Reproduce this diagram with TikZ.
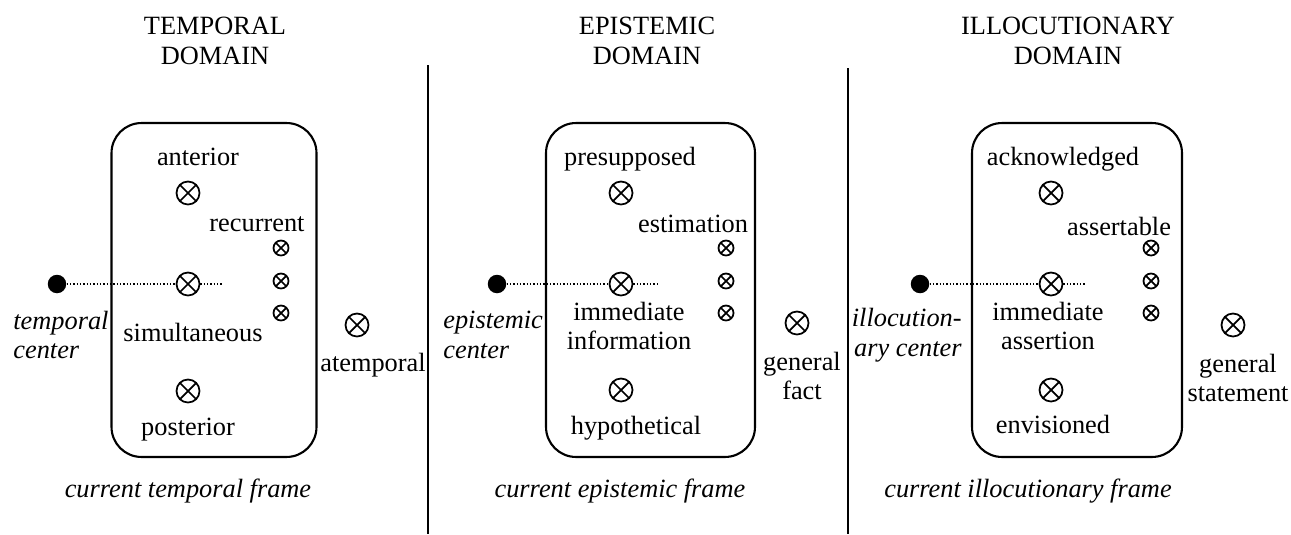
\documentclass[tikz,border=0pt]{standalone}
\usepackage{fontspec}
\setmainfont{Liberation Serif}
\usepackage{tikz}

\tikzset{
  txt/.style={inner sep=0pt, font=\fontsize{15pt}{17pt}\selectfont},
  frame/.style={draw, line width=1.2pt, rounded corners=0.6cm, minimum width=4.1cm, minimum height=6.68cm, inner sep=0pt},
  cross/.style={circle, draw, line width=1pt, minimum size=0.46cm, inner sep=0pt,
    path picture={\draw[line width=1pt] (path picture bounding box.north west) -- (path picture bounding box.south east)
      (path picture bounding box.south west) -- (path picture bounding box.north east);}},
  smallcross/.style={cross, minimum size=0.3cm},
  centre/.style={circle, fill=black, minimum size=0.37cm, inner sep=0pt},
  dotline/.style={line width=0.8pt, dash pattern=on 0.7pt off 1.2pt},
}

\begin{document}
\begin{tikzpicture}[x=0.02cm, y=-0.02cm]
            \useasboundingbox (0,0) rectangle (1291,534);

            % temporal domain
            \node[txt, align=center] (ttitle) at (215, 41) {TEMPORAL\\DOMAIN};
            \node[frame] (tbox) at (214, 290) {};
            \node[txt] (tantl) at (198, 157) {anterior};
            \node[cross] (tant) at (188, 193) {};
            \node[txt] (trecl) at (257, 224) {recurrent};
            \node[smallcross] (trec1) at (281, 248) {};
            \node[smallcross] (trec2) at (281, 281) {};
            \node[smallcross] (trec3) at (281, 313) {};
            \node[centre] (tc) at (57, 284) {};
            \node[cross] (tsim) at (188, 284) {};
            \coordinate (tend) at (222, 284);
            \node[txt, align=left, anchor=west, font=\fontsize{15pt}{17pt}\selectfont\itshape] (tcl) at (13, 335) {temporal\\center};
            \node[txt] (tsiml) at (193, 332) {simultaneous};
            \node[cross] (tpost) at (188, 391) {};
            \node[txt] (tpostl) at (188, 430) {posterior};
            \node[cross] (tatemp) at (357, 325) {};
            \node[txt] (tatempl) at (373, 365) {atemporal};
            \node[txt, font=\fontsize{15pt}{17pt}\selectfont\itshape] (tframe) at (188, 491) {current temporal frame};

            \draw[dotline] (tc) -- (tsim) -- (tend); % center-simultaneous

            \draw[line width=1.4pt] (428, 65) -- (428, 534);

            % epistemic domain
            \node[txt, align=center] (etitle) at (647, 41) {EPISTEMIC\\DOMAIN};
            \node[frame, minimum width=4.18cm] (ebox) at (650.5, 290) {};
            \node[txt] (epresl) at (630, 159) {presupposed};
            \node[cross] (epres) at (621, 193) {};
            \node[txt] (eestl) at (693, 224) {estimation};
            \node[smallcross] (eest1) at (726, 248) {};
            \node[smallcross] (eest2) at (726, 281) {};
            \node[smallcross] (eest3) at (726, 313) {};
            \node[centre] (ec) at (497, 284) {};
            \node[cross] (eimm) at (621, 284) {};
            \coordinate (eend) at (659, 284);
            \node[txt, align=left, anchor=west, font=\fontsize{15pt}{17pt}\selectfont\itshape] (ecl) at (443, 335) {epistemic\\center};
            \node[txt, align=center] (eimml) at (629, 326) {immediate\\information};
            \node[cross] (ehyp) at (621, 390) {};
            \node[txt] (ehypl) at (636, 428) {hypothetical};
            \node[cross] (egen) at (797, 323) {};
            \node[txt, align=center] (egenl) at (802, 376) {general\\fact};
            \node[txt, font=\fontsize{15pt}{17pt}\selectfont\itshape] (eframe) at (620, 491) {current epistemic frame};

            \draw[dotline] (ec) -- (eimm) -- (eend); % center-immediate

            \draw[line width=1.4pt] (848, 68) -- (848, 534);

            % illocutionary domain
            \node[txt, align=center] (ititle) at (1068, 41) {ILLOCUTIONARY\\DOMAIN};
            \node[frame, minimum width=4.2cm] (ibox) at (1077, 290) {};
            \node[txt] (iackl) at (1063, 159) {acknowledged};
            \node[cross] (iack) at (1051, 193) {};
            \node[txt] (iassl) at (1119, 226) {assertable};
            \node[smallcross] (iass1) at (1151, 248) {};
            \node[smallcross] (iass2) at (1151, 281) {};
            \node[smallcross] (iass3) at (1151, 313) {};
            \node[centre] (ic) at (920, 284) {};
            \node[cross] (iimm) at (1051, 284) {};
            \coordinate (iend) at (1085, 284);
            \node[txt, align=right, anchor=east, font=\fontsize{15pt}{17pt}\selectfont\itshape] (icl) at (962, 335) {illocution-\\ary center};
            \node[txt, align=center] (iimml) at (1048, 326) {immediate\\assertion};
            \node[cross] (ienv) at (1051, 390) {};
            \node[txt] (ienvl) at (1053, 424) {envisioned};
            \node[cross] (igen) at (1233, 325) {};
            \node[txt, align=center] (igenl) at (1238, 378) {general\\statement};
            \node[txt, font=\fontsize{15pt}{17pt}\selectfont\itshape] (iframe) at (1028, 491) {current illocutionary frame};

            \draw[dotline] (ic) -- (iimm) -- (iend); % center-immediate
        \end{tikzpicture}
\end{document}
